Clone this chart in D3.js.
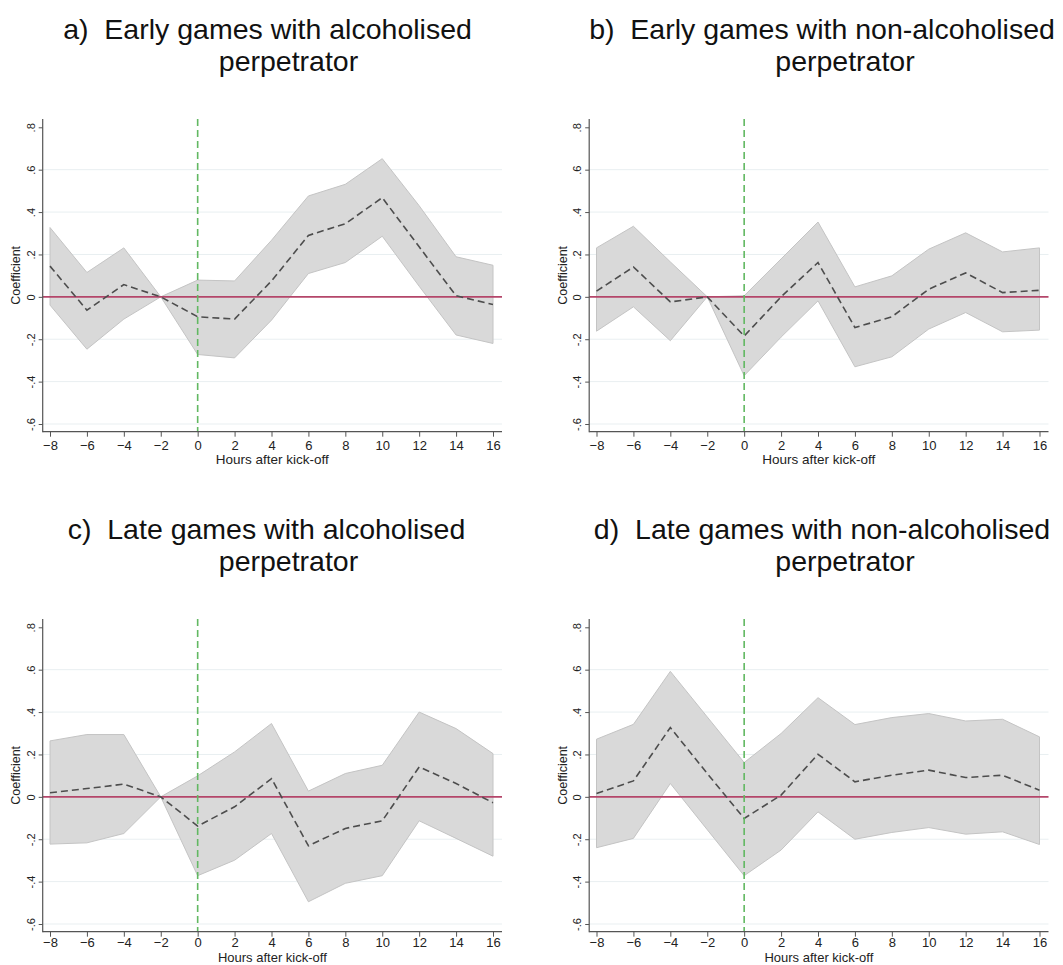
<!DOCTYPE html>
<html>
<head>
<meta charset="utf-8">
<script src="https://cdn.jsdelivr.net/npm/d3@7"></script>
<style>
  body { margin: 0; background: #fff; }
  svg { display: block; font-family: "Liberation Sans", Arial, Helvetica, sans-serif; }
</style>
</head>
<body>
<svg id="chart" width="1063" height="965"></svg>
<script>
// hours relative to kick-off (x axis)
const hours = [-8, -6, -4, -2, 0, 2, 4, 6, 8, 10, 12, 14, 16];
const yTicks = [-0.6, -0.4, -0.2, 0, 0.2, 0.4, 0.6, 0.8];
const yTickLabels = ["-.6", "-.4", "-.2", "0", ".2", ".4", ".6", ".8"];

// a) early games, alcoholised perpetrator
const coefA = [0.145, -0.063, 0.058, 0, -0.094, -0.105, 0.075, 0.29, 0.345, 0.468, 0.236, 0.005, -0.036];
const upA = [0.327, 0.115, 0.231, 0, 0.079, 0.075, 0.267, 0.476, 0.531, 0.652, 0.43, 0.189, 0.149];
const loA = [-0.039, -0.247, -0.105, 0, -0.272, -0.288, -0.11, 0.11, 0.162, 0.286, 0.05, -0.18, -0.22];

// b) early games, non-alcoholised perpetrator
const coefB = [0.027, 0.141, -0.024, 0, -0.185, 0.0, 0.162, -0.145, -0.094, 0.036, 0.113, 0.02, 0.031];
const upB = [0.231, 0.333, 0.165, 0, 0.005, 0.179, 0.353, 0.047, 0.099, 0.225, 0.302, 0.212, 0.231];
const loB = [-0.162, -0.047, -0.207, 0, -0.372, -0.19, -0.019, -0.33, -0.283, -0.152, -0.074, -0.165, -0.157];

// c) late games, alcoholised perpetrator
const coefC = [0.019, 0.039, 0.06, 0, -0.138, -0.047, 0.086, -0.231, -0.149, -0.113, 0.141, 0.063, -0.028];
const upC = [0.264, 0.294, 0.294, 0, 0.099, 0.212, 0.346, 0.027, 0.11, 0.149, 0.4, 0.322, 0.204];
const loC = [-0.223, -0.217, -0.173, 0, -0.372, -0.299, -0.173, -0.495, -0.408, -0.372, -0.113, -0.196, -0.28];

// d) late games, non-alcoholised perpetrator
const coefD = [0.016, 0.075, 0.327, 0.11, -0.102, 0.008, 0.201, 0.071, 0.102, 0.126, 0.091, 0.102, 0.031];
const upD = [0.272, 0.342, 0.592, 0.377, 0.162, 0.299, 0.468, 0.341, 0.374, 0.393, 0.358, 0.366, 0.283];
const loD = [-0.24, -0.196, 0.063, -0.155, -0.372, -0.251, -0.071, -0.2, -0.168, -0.145, -0.176, -0.165, -0.225];

const titles1 = ["a)  Early games with alcoholised", "b)  Early games with non-alcoholised",
                 "c)  Late games with alcoholised", "d)  Late games with non-alcoholised"];
const titles2 = ["perpetrator", "perpetrator", "perpetrator", "perpetrator"];

let panels = [
    {coef: coefA, up: upA, lo: loA, dx: 0, dy: 0, t1x: 267.5, t2x: 288.5, tickPad: 4, xTitleY: 464, xTitleFont: 13.5},
    {coef: coefB, up: upB, lo: loB, dx: 546.5, dy: 0, t1x: 275.5, t2x: 298.5, tickPad: 4, xTitleY: 464, xTitleFont: 13.5},
    {coef: coefC, up: upC, lo: loC, dx: 0, dy: 500, t1x: 266.5, t2x: 288.5, tickPad: 1.5, xTitleY: 462, xTitleFont: 13},
    {coef: coefD, up: upD, lo: loD, dx: 546.5, dy: 500, t1x: 275.5, t2x: 298.5, tickPad: 1.5, xTitleY: 462, xTitleFont: 13}
];

let svg = d3.select("#chart");

// plot frame (panel-local coordinates)
let axisX = 42.7, plotRight = 502, plotTop = 119, axisY = 431.7;

let x = d3.scaleLinear().domain([-8, 16]).range([50, 493]);
let y = d3.scaleLinear().domain([-0.6, 0.8]).range([424, 127.3]);

panels.forEach(function (p, i) {
    let g = svg.append("g").attr("transform", "translate(" + p.dx + "," + p.dy + ")");

    // titles
    g.append("text")
        .attr("x", p.t1x).attr("y", 39)
        .attr("text-anchor", "middle")
        .style("white-space", "pre")
        .attr("font-size", 28.5)
        .attr("fill", "#111")
        .text(titles1[i]);
    g.append("text")
        .attr("x", p.t2x).attr("y", 71)
        .attr("text-anchor", "middle")
        .attr("font-size", 28.5)
        .attr("fill", "#111")
        .text(titles2[i]);

    // faint grid
    g.selectAll(".grid")
        .data(yTicks.filter(function (d) { return d !== 0 && d < 0.8; }))
        .enter().append("line")
        .attr("x1", axisX).attr("x2", plotRight)
        .attr("y1", function (d) { return y(d); })
        .attr("y2", function (d) { return y(d); })
        .attr("stroke", "#e9eff1")
        .attr("stroke-width", 1);

    // confidence band
    let band = d3.area()
        .x(function (d, j) { return x(hours[j]); })
        .y0(function (d, j) { return y(p.lo[j]); })
        .y1(function (d, j) { return y(p.up[j]); });
    g.append("path")
        .datum(p.coef)
        .attr("d", band)
        .attr("fill", "#d9d9d9")
        .attr("stroke", "#c4c4c4")
        .attr("stroke-width", 1);

    // zero line
    g.append("line")
        .attr("x1", axisX).attr("x2", plotRight)
        .attr("y1", y(0)).attr("y2", y(0))
        .attr("stroke", "#b4466a")
        .attr("stroke-width", 1.8);

    // point estimates
    let line = d3.line()
        .x(function (d, j) { return x(hours[j]); })
        .y(function (d) { return y(d); });
    g.append("path")
        .datum(p.coef)
        .attr("d", line)
        .attr("fill", "none")
        .attr("stroke", "#4d4d4d")
        .attr("stroke-width", 1.6)
        .attr("stroke-dasharray", "7,4");

    // kick-off marker
    g.append("line")
        .attr("x1", x(0)).attr("x2", x(0))
        .attr("y1", plotTop).attr("y2", axisY)
        .attr("stroke", "#62b862")
        .attr("stroke-width", 1.6)
        .attr("stroke-dasharray", "7,4");

    // axis lines
    g.append("line")
        .attr("x1", axisX).attr("x2", axisX)
        .attr("y1", plotTop).attr("y2", axisY + 0.5)
        .attr("stroke", "#555").attr("stroke-width", 1.2);
    g.append("line")
        .attr("x1", axisX).attr("x2", plotRight)
        .attr("y1", axisY).attr("y2", axisY)
        .attr("stroke", "#555").attr("stroke-width", 1.2);

    // x axis ticks
    let xAxis = g.append("g")
        .attr("transform", "translate(0," + axisY + ")")
        .call(d3.axisBottom(x).tickValues(hours).tickSize(5).tickPadding(p.tickPad).tickSizeOuter(0));
    xAxis.select(".domain").remove();
    xAxis.selectAll("line").attr("stroke", "#555");
    xAxis.selectAll("text")
        .attr("font-size", 13)
        .attr("font-family", "Liberation Sans, Arial, sans-serif")
        .attr("fill", "#222");

    // y axis ticks, labels rotated like Stata
    let yAxis = g.append("g")
        .attr("transform", "translate(" + axisX + ",0)")
        .call(d3.axisLeft(y).tickValues(yTicks).tickSize(4)
            .tickFormat(function (d, j) { return yTickLabels[j]; }).tickSizeOuter(0));
    yAxis.select(".domain").remove();
    yAxis.selectAll("line").attr("stroke", "#555");
    yAxis.selectAll("text")
        .attr("x", 0).attr("dy", null)
        .attr("transform", "translate(-8,0) rotate(-90)")
        .attr("text-anchor", "middle")
        .attr("font-size", 11)
        .attr("font-family", "Liberation Sans, Arial, sans-serif")
        .attr("fill", "#222");

    // axis titles
    g.append("text")
        .attr("transform", "translate(20," + ((plotTop + axisY) / 2) + ") rotate(-90)")
        .attr("text-anchor", "middle")
        .attr("font-size", 12.5)
        .attr("fill", "#222")
        .text("Coefficient");
    g.append("text")
        .attr("x", (axisX + plotRight) / 2).attr("y", p.xTitleY)
        .attr("text-anchor", "middle")
        .attr("font-size", p.xTitleFont)
        .attr("fill", "#222")
        .text("Hours after kick-off");
});
</script>
</body>
</html>
